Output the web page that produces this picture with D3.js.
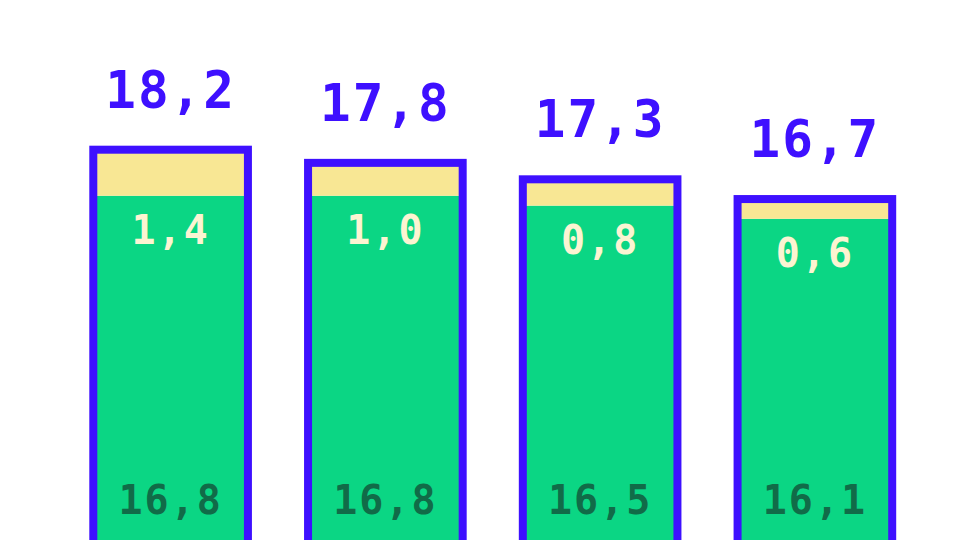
<!DOCTYPE html>
<html>
<head>
<meta charset="utf-8">
<script src="https://cdn.jsdelivr.net/npm/d3@7"></script>
<style>
  html, body { margin: 0; padding: 0; background: #ffffff; }
  svg { display: block; }
  text { font-family: "DejaVu Sans Mono", "Liberation Mono", monospace; font-weight: bold; }
</style>
</head>
<body>
<svg id="chart" width="960" height="540"></svg>
<script>
// Data
const categories = ["A", "B", "C", "D"];
const baseValues = [16.8, 16.8, 16.5, 16.1];
const topValues = [1.4, 1.0, 0.8, 0.6];
const totalValues = [18.2, 17.8, 17.3, 16.7];
const baseLabels = ["16,8", "16,8", "16,5", "16,1"];
const topLabels = ["1,4", "1,0", "0,8", "0,6"];
const totalLabels = ["18,2", "17,8", "17,3", "16,7"];

const W = 960, H = 540;
const colors = {
  outline: "#3e10ff",
  base: "#0bd684",
  top: "#f8e794",
  baseText: "#116b48",
  topText: "#fcf4d2",
  totalText: "#3e10ff"
};

const rows = categories.map((c, i) => ({
  cat: c, base: baseValues[i], top: topValues[i], total: totalValues[i],
  baseLabel: baseLabels[i], topLabel: topLabels[i], totalLabel: totalLabels[i]
}));

const svg = d3.select("#chart");

const x = d3.scaleBand().domain(categories).range([93.3, 892.2]).paddingInner(0.28).paddingOuter(0);
const y = d3.scaleLinear().domain([0, 18.2]).range([748.5, 149.7]);

const g = svg.append("g");

// base (green) segment
g.selectAll("rect.base").data(rows).join("rect")
  .attr("class", "base")
  .attr("x", d => x(d.cat))
  .attr("width", x.bandwidth())
  .attr("y", d => y(d.base))
  .attr("height", d => y(0) - y(d.base))
  .attr("fill", colors.base);

// top (yellow) segment
g.selectAll("rect.top").data(rows).join("rect")
  .attr("class", "top")
  .attr("x", d => x(d.cat))
  .attr("width", x.bandwidth())
  .attr("y", d => y(d.base + d.top))
  .attr("height", d => y(d.base) - y(d.base + d.top))
  .attr("fill", colors.top);

// outline
g.selectAll("rect.outline").data(rows).join("rect")
  .attr("class", "outline")
  .attr("x", d => x(d.cat))
  .attr("width", x.bandwidth())
  .attr("y", d => y(d.total))
  .attr("height", d => y(0) - y(d.total))
  .attr("fill", "none")
  .attr("stroke", colors.outline)
  .attr("stroke-width", 8);

const cx = d => x(d.cat) + x.bandwidth() / 2;

// total labels
g.selectAll("text.total").data(rows).join("text")
  .attr("class", "total")
  .attr("x", cx)
  .attr("y", d => y(d.total) - 42)
  .attr("text-anchor", "middle")
  .attr("font-size", 51)
  .attr("letter-spacing", 2)
  .attr("fill", colors.totalText)
  .text(d => d.totalLabel);

// top segment labels
g.selectAll("text.toplab").data(rows).join("text")
  .attr("class", "toplab")
  .attr("x", cx)
  .attr("y", d => y(d.base) + 48)
  .attr("text-anchor", "middle")
  .attr("font-size", 40)
  .attr("letter-spacing", 2)
  .attr("fill", colors.topText)
  .text(d => d.topLabel);

// base segment labels
g.selectAll("text.baselab").data(rows).join("text")
  .attr("class", "baselab")
  .attr("x", cx)
  .attr("y", 514)
  .attr("text-anchor", "middle")
  .attr("font-size", 40)
  .attr("letter-spacing", 2)
  .attr("fill", colors.baseText)
  .text(d => d.baseLabel);
</script>
</body>
</html>
